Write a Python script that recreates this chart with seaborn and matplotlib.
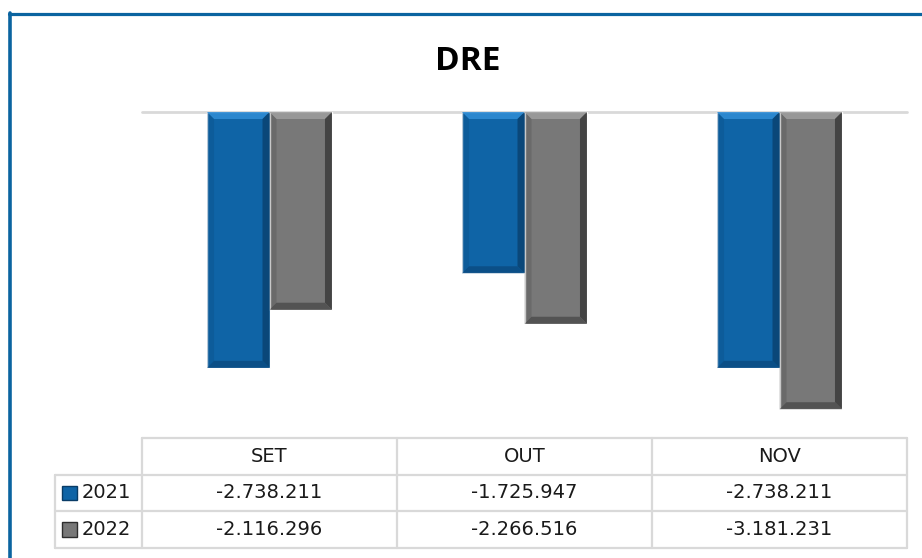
import numpy as np
import pandas as pd
import matplotlib
matplotlib.use('Agg')
import matplotlib.pyplot as plt
from matplotlib.patches import Rectangle, Polygon
from matplotlib.lines import Line2D
import seaborn as sns

# DRE monthly values (SET / OUT / NOV)
meses = ['SET', 'OUT', 'NOV']
anos = ['2021', '2022']
valores_2021 = [-2738211, -1725947, -2738211]
valores_2022 = [-2116296, -2266516, -3181231]

azul = '#0f64a6'
cinza = '#787878'
cores = [azul, cinza]
# bevel shades: (light top, dark side, dark bottom)
bevel = {azul: ('#2f8bd3', '#093c66', '#0a4a80'),
         cinza: ('#9c9c9c', '#2e2e2e', '#4a4a4a')}

df = pd.DataFrame({
    'mes': meses * 2,
    'ano': [anos[0]] * 3 + [anos[1]] * 3,
    'valor': valores_2021 + valores_2022,
})

sns.set_style('white')
plt.rcParams['font.family'] = ['DejaVu Sans']

W, H = 922, 558
fig = plt.figure(figsize=(W / 100, H / 100), dpi=100)

# chart area
ax = fig.add_axes([142 / W, 1 - 439 / H, 765 / W, 327 / H])
sns.barplot(data=df, x='mes', y='valor', hue='ano', palette=cores,
            width=0.49, saturation=1, legend=False, ax=ax, zorder=2)
ax.set_xlim(-0.5, 2.5)
ax.set_ylim(-3.5e6, 0)
ax.axhline(0, color='#d9d9d9', lw=2, zorder=1, clip_on=False)
ax.axis('off')

# fake bevel on each bar, from the bar's own geometry
px_x = 3 / 765      # data units per pixel, x
px_y = 3.5e6 / 327  # data units per pixel, y
b = 7
for p in list(ax.patches):
    x0, w = p.get_x(), p.get_width()
    y0, h = p.get_y(), p.get_height()
    x1 = x0 + w
    top, bot = max(y0, y0 + h), min(y0, y0 + h)
    fc = matplotlib.colors.to_hex(p.get_facecolor())
    light, dark, darkb = bevel.get(fc, ('#ffffff', '#000000', '#000000'))
    dx, dy = b * px_x, b * px_y
    ax.add_patch(Polygon([(x0, top), (x1, top), (x1 - dx, top - dy), (x0 + dx, top - dy)],
                         closed=True, fc=light, ec='none', zorder=3, alpha=0.9))
    ax.add_patch(Polygon([(x1, top), (x1, bot), (x1 - dx, bot + dy), (x1 - dx, top - dy)],
                         closed=True, fc=dark, ec='none', zorder=3, alpha=0.7))
    ax.add_patch(Polygon([(x0, bot), (x1, bot), (x1 - dx, bot + dy), (x0 + dx, bot + dy)],
                         closed=True, fc=darkb, ec='none', zorder=3, alpha=0.8))
    ax.add_patch(Polygon([(x0, top), (x0, bot), (x0 + dx, bot + dy), (x0 + dx, top - dy)],
                         closed=True, fc=darkb, ec='none', zorder=3, alpha=0.3))

# data table under the chart
lab_w = 87 / 255
tax = fig.add_axes([55 / W, 1 - 548 / H, 852 / W, 110 / H])
x_left = -0.5 - lab_w
tax.set_xlim(x_left, 2.5)
tax.set_ylim(3, 0)
tax.axis('off')
gc = '#d9d9d9'
lw = 1.6
tax.plot([-0.5, 2.5], [0, 0], color=gc, lw=lw, clip_on=False)
for r in [1, 2, 3]:
    tax.plot([x_left, 2.5], [r, r], color=gc, lw=lw, clip_on=False)
tax.plot([x_left, x_left], [1, 3], color=gc, lw=lw, clip_on=False)
for c in [-0.5, 0.5, 1.5, 2.5]:
    tax.plot([c, c], [0, 3], color=gc, lw=lw, clip_on=False)

fs = 14
for i, m in enumerate(meses):
    tax.text(i, 0.5, m, ha='center', va='center', fontsize=fs, color='#1a1a1a')
for r, (ano, vals, cor) in enumerate(zip(anos, [valores_2021, valores_2022], cores), start=1):
    for i, v in enumerate(vals):
        tax.text(i, r + 0.5, f'{v:,}'.replace(',', '.'), ha='center', va='center',
                 fontsize=fs, color='#1a1a1a')
    tax.add_patch(Rectangle((x_left + 7 / 255, r + 0.5 - 0.2), 15 / 255, 0.4,
                            fc=cor, ec=bevel[cor][1], lw=1, clip_on=False))
    tax.text(x_left + 27 / 255, r + 0.5, ano, ha='left', va='center',
             fontsize=fs, color='#1a1a1a')

# title
fig.text(468 / W, 1 - 62 / H, 'DRE', ha='center', va='center', color='black',
         fontsize=24, fontweight='bold', family=['Open Sans', 'DejaVu Sans'])

# outer blue frame (only left/top visible)
fig.add_artist(Line2D([10.3 / W, 10.3 / W], [1 - 12.5 / H, 0], color='#0b64a0', lw=2.6))
fig.add_artist(Line2D([8.5 / W, 1], [1 - 13.8 / H, 1 - 13.8 / H], color='#0b64a0', lw=2.3))

fig.savefig('out.png', dpi=100)
